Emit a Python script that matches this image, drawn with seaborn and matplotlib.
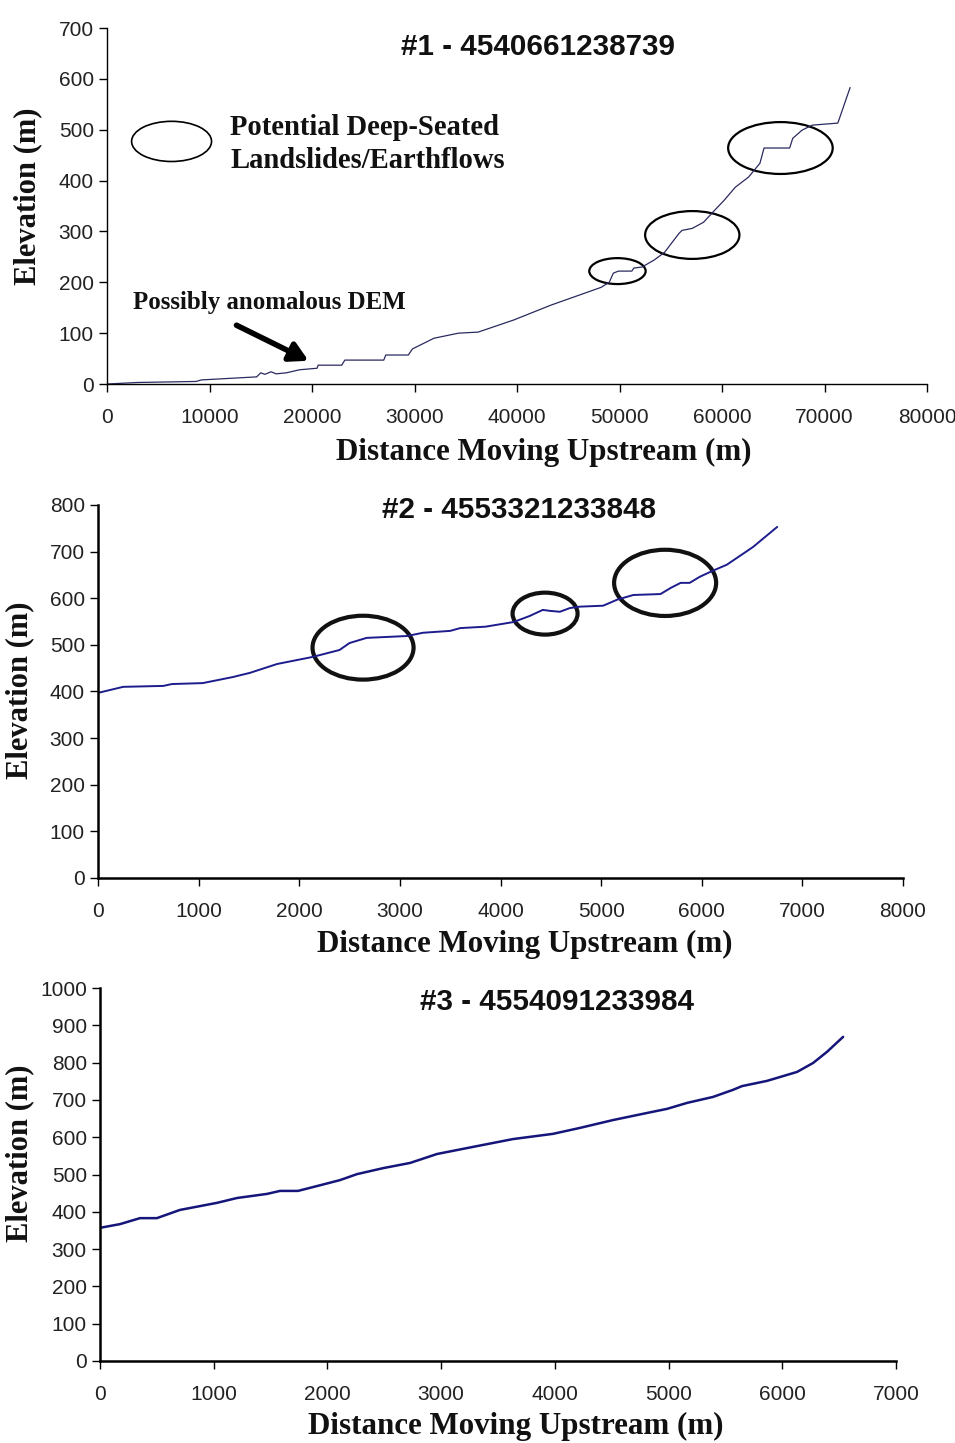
import matplotlib
matplotlib.use("Agg")
import matplotlib.pyplot as plt
from matplotlib.patches import Ellipse
import seaborn as sns
import pandas as pd

# ---------------- data ----------------
# Panel 1: #1 - 4540661238739
p1_dist = [0, 3000, 8700, 9200, 14600, 15000, 15400, 16000, 16500, 17500, 18800, 20500, 20600,
           22900, 23200, 27000, 27200, 29400, 29800, 31900, 34300, 36200, 39700, 43300, 48200,
           49000, 49400, 49900, 51200, 51400, 52200, 53400, 54400, 55800, 56100, 57100, 58200,
           59300, 60200, 61300, 62600, 63700, 64100, 66600, 66900, 67800, 68800, 71300, 72500]
p1_elev = [0, 3, 5, 8, 14, 22, 19, 24, 20, 22, 28, 31, 37,
           37, 47, 47, 57, 57, 69, 90, 100, 102, 126, 155, 190,
           200, 218, 222, 222, 228, 230, 244, 259, 296, 302, 306, 318,
           342, 361, 387, 407, 434, 464, 464, 483, 499, 509, 513, 583]

# Panel 2: #2 - 4553321233848
p2_dist = [0, 250, 650, 735, 1040, 1340, 1510, 1780, 2130, 2400, 2500, 2670, 3070, 3230, 3500,
           3600, 3850, 4130, 4290, 4420, 4490, 4590, 4690, 4790, 5020, 5160, 5320, 5590, 5690,
           5790, 5880, 5980, 6110, 6250, 6510, 6750]
p2_elev = [397, 410, 412, 416, 418, 431, 440, 459, 474, 489, 504, 515, 519, 526, 530,
           536, 539, 549, 562, 575, 573, 571, 579, 582, 584, 597, 607, 609, 622,
           633, 633, 646, 659, 672, 710, 753]

# Panel 3: #3 - 4554091233984
p3_dist = [0, 176, 352, 500, 703, 1029, 1205, 1469, 1583, 1741, 1908, 2111, 2260, 2489, 2727,
           2964, 3280, 3632, 3984, 4222, 4512, 4811, 4987, 5163, 5391, 5567, 5646, 5866, 6130,
           6271, 6394, 6535]
p3_elev = [357, 367, 383, 383, 405, 424, 437, 448, 456, 456, 469, 485, 501, 517, 531,
           555, 574, 595, 609, 625, 646, 665, 676, 692, 708, 727, 737, 751, 775,
           799, 829, 869]

titles = ["#1 - 4540661238739", "#2 - 4553321233848", "#3 - 4554091233984"]
x_label = "Distance Moving Upstream (m)"
y_label = "Elevation (m)"
legend_text = "Potential Deep-Seated\nLandslides/Earthflows"
note_text = "Possibly anomalous DEM"

# ellipses (center x, center y, width, height) in data units
p1_ellipses = [(49800, 222, 5500, 51), (57100, 293, 9200, 94), (65700, 464, 10200, 102)]
p1_legend_ellipse = (6300, 477, 7800, 79)
p2_ellipses = [(2634, 494, 1004, 137), (4443, 567, 646, 90), (5636, 633, 1014, 142)]

# ---------------- figure ----------------
W, H = 955, 1443
sns.set_theme(style="white")
plt.rcParams["font.family"] = ["Liberation Sans", "DejaVu Sans"]
fig = plt.figure(figsize=(W / 100, H / 100), dpi=100)
fig.patch.set_facecolor("white")


def px(x, y):
    return x / W, 1 - y / H


serif = ["Liberation Serif", "DejaVu Serif"]
sans = ["Liberation Sans", "DejaVu Sans"]

# axes rectangles from pixel positions (left, top, right, bottom)
rects = [(107, 28, 927, 384), (98, 505, 903, 878), (100, 988, 896, 1361)]
axes = []
for (l, t, r, b) in rects:
    ax = fig.add_axes([l / W, 1 - b / H, (r - l) / W, (b - t) / H])
    axes.append(ax)


def style_axis(ax, lw):
    for s in ["top", "right"]:
        ax.spines[s].set_visible(False)
    for s in ["left", "bottom"]:
        ax.spines[s].set_color("black")
        ax.spines[s].set_linewidth(lw)
    ax.tick_params(axis="both", which="major", direction="out", length=6, width=1,
                   color="black", labelsize=15, labelcolor="#222222", left=True, bottom=True)
    for lab in ax.get_xticklabels() + ax.get_yticklabels():
        lab.set_fontfamily(sans)
    ax.grid(False)
    ax.set_facecolor("white")
    ax.set_xlabel("")
    ax.set_ylabel("")


# Panel 1
ax = axes[0]
df1 = pd.DataFrame({"d": p1_dist, "e": p1_elev})
sns.lineplot(data=df1, x="d", y="e", ax=ax, estimator=None, sort=False,
             color="#2a2a60", linewidth=0.9)
ax.set_xlim(0, 80000)
ax.set_ylim(0, 700)
ax.set_xticks(range(0, 80001, 10000))
ax.set_yticks(range(0, 701, 100))
style_axis(ax, 1.0)
ax.tick_params(axis="x", pad=11)
for (cx, cy, w, h) in p1_ellipses:
    ax.add_patch(Ellipse((cx, cy), w, h, fill=False, edgecolor="black", linewidth=1.6, clip_on=False))
cx, cy, w, h = p1_legend_ellipse
ax.add_patch(Ellipse((cx, cy), w, h, fill=False, edgecolor="black", linewidth=1.2, clip_on=False))
ax.text(*px(230, 144), legend_text, transform=fig.transFigure, fontfamily=serif,
        fontweight="bold", fontsize=20.6, va="center", ha="left", linespacing=1.3, color="#111111")
ax.text(*px(133, 303), note_text, transform=fig.transFigure, fontfamily=serif,
        fontweight="bold", fontsize=17.9, va="center", ha="left", color="#111111")
ax.annotate("", xy=px(311, 362), xytext=px(234, 324), xycoords="figure fraction",
            textcoords="figure fraction",
            arrowprops=dict(arrowstyle="-|>,head_length=0.9,head_width=0.5", lw=4, color="black"))

# Panel 2
ax = axes[1]
df2 = pd.DataFrame({"d": p2_dist, "e": p2_elev})
sns.lineplot(data=df2, x="d", y="e", ax=ax, estimator=None, sort=False,
             color="#1c1c8c", linewidth=1.4)
ax.set_xlim(0, 8000)
ax.set_ylim(0, 800)
ax.set_xticks(range(0, 8001, 1000))
ax.set_yticks(range(0, 801, 100))
style_axis(ax, 1.8)
ax.tick_params(axis="x", pad=11)
for (cx, cy, w, h) in p2_ellipses:
    ax.add_patch(Ellipse((cx, cy), w, h, fill=False, edgecolor="#111111", linewidth=3.0))

# Panel 3
ax = axes[2]
df3 = pd.DataFrame({"d": p3_dist, "e": p3_elev})
sns.lineplot(data=df3, x="d", y="e", ax=ax, estimator=None, sort=False,
             color="#15157a", linewidth=1.8)
ax.set_xlim(0, 7000)
ax.set_ylim(0, 1000)
ax.set_xticks(range(0, 7001, 1000))
ax.set_yticks(range(0, 1001, 100))
style_axis(ax, 1.8)
ax.tick_params(axis="x", pad=11)

# titles
title_pos = [(538, 47), (519, 510), (557, 1002)]
for t, (x, y) in zip(titles, title_pos):
    fig.text(*px(x, y), t, fontfamily=sans, fontweight="bold", fontsize=21.3,
             ha="center", va="center", color="#111111")

# x labels
xlab_pos = [(544, 452), (525, 944), (516, 1426)]
for (x, y) in xlab_pos:
    fig.text(*px(x, y), x_label, fontfamily=serif, fontweight="bold", fontsize=22.3,
             ha="center", va="center", color="#111111")

# y labels
ylab_pos = [(28, 196), (20, 690), (20, 1153)]
for (x, y) in ylab_pos:
    fig.text(*px(x, y), y_label, fontfamily=serif, fontweight="bold", fontsize=22,
             ha="center", va="center", rotation=90, color="#111111")

fig.savefig("out.png", dpi=100, facecolor="white")
